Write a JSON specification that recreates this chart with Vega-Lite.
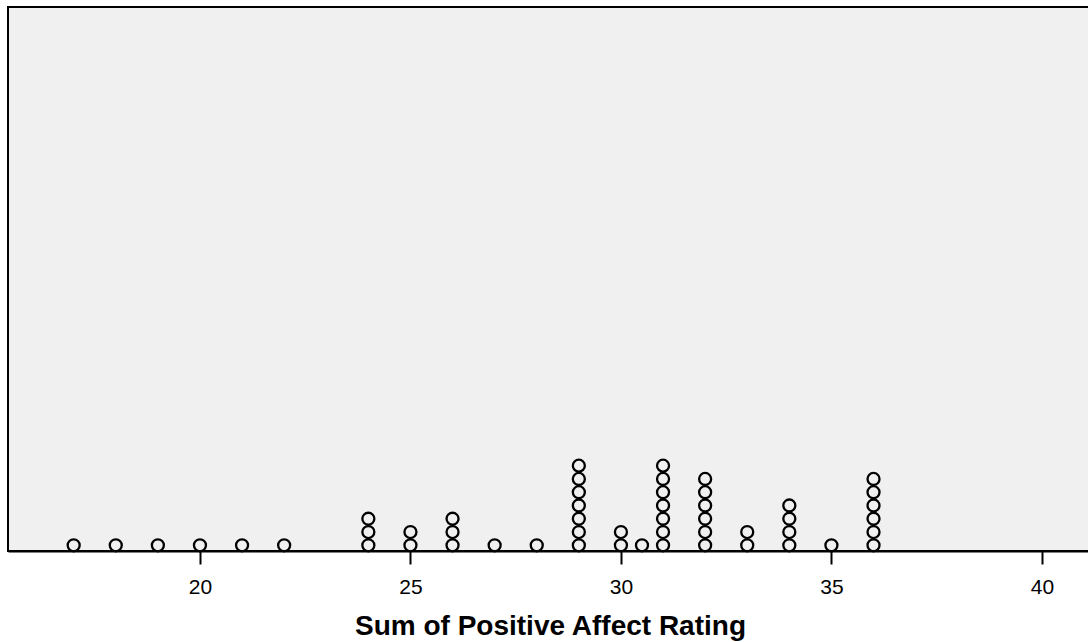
{
  "$schema": "https://vega.github.io/schema/vega-lite/v6.json",
  "autosize": {"type": "none"},
  "width": 1084,
  "height": 544,
  "padding": {"left": 8, "top": 7, "right": 0, "bottom": 91},
  "background": "white",
  "config": {
    "view": {"fill": "#f0f0f0", "stroke": "black", "strokeWidth": 2},
    "font": "Liberation Sans"
  },
  "data": {
    "values": [
      {"score": 17}, {"score": 18}, {"score": 19}, {"score": 20}, {"score": 21}, {"score": 22},
      {"score": 24}, {"score": 24}, {"score": 24},
      {"score": 25}, {"score": 25},
      {"score": 26}, {"score": 26}, {"score": 26},
      {"score": 27}, {"score": 28},
      {"score": 29}, {"score": 29}, {"score": 29}, {"score": 29}, {"score": 29}, {"score": 29}, {"score": 29},
      {"score": 30}, {"score": 30},
      {"score": 30.5},
      {"score": 31}, {"score": 31}, {"score": 31}, {"score": 31}, {"score": 31}, {"score": 31}, {"score": 31},
      {"score": 32}, {"score": 32}, {"score": 32}, {"score": 32}, {"score": 32}, {"score": 32},
      {"score": 33}, {"score": 33},
      {"score": 34}, {"score": 34}, {"score": 34}, {"score": 34},
      {"score": 35},
      {"score": 36}, {"score": 36}, {"score": 36}, {"score": 36}, {"score": 36}, {"score": 36}
    ]
  },
  "transform": [
    {"window": [{"op": "row_number", "as": "stack"}], "groupby": ["score"]}
  ],
  "mark": {"type": "point", "shape": "circle", "filled": false, "stroke": "black", "strokeWidth": 2.3, "size": 144, "opacity": 1},
  "encoding": {
    "x": {
      "field": "score", "type": "quantitative",
      "scale": {"domain": [15.44, 41.19], "nice": false, "zero": false},
      "axis": {
        "title": "Sum of Positive Affect Rating",
        "values": [20, 25, 30, 35, 40],
        "grid": false,
        "domainColor": "black", "domainWidth": 2,
        "tickColor": "black", "tickWidth": 2, "tickSize": 13,
        "labelFont": "Liberation Sans", "labelFontSize": 21, "labelColor": "black", "labelPadding": 12,
        "titleFont": "Liberation Sans", "titleFontSize": 28, "titleFontWeight": "bold", "titleColor": "black", "titlePadding": 15
      }
    },
    "y": {
      "field": "stack", "type": "quantitative",
      "scale": {"domain": [0.57, 41.57], "nice": false, "zero": false},
      "axis": null
    }
  }
}
